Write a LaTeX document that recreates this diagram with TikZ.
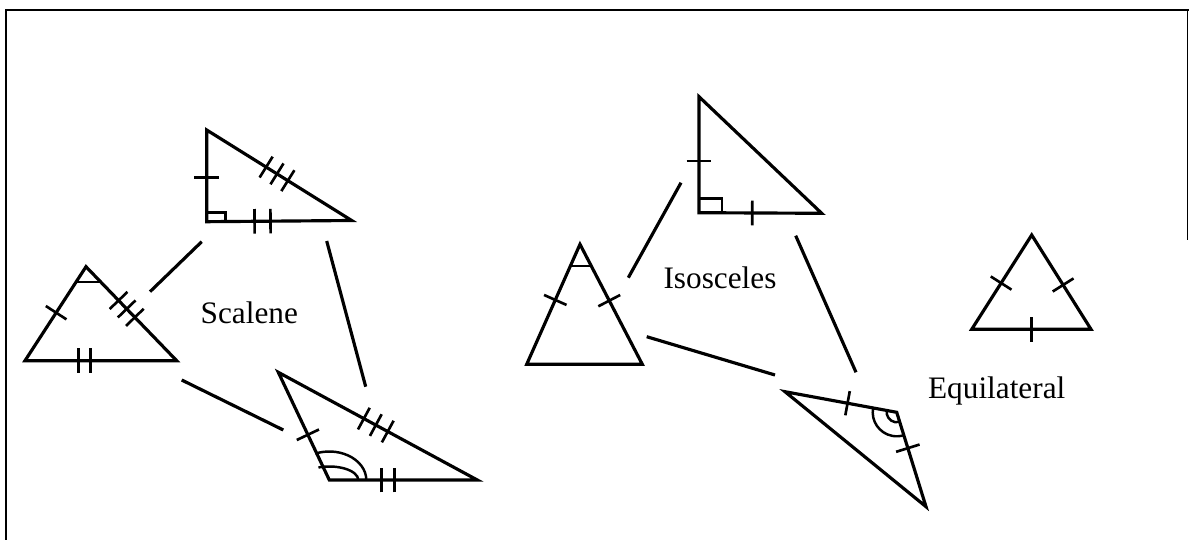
\documentclass[tikz,border=0pt]{standalone}
\usepackage{fontspec}
\setmainfont{Liberation Serif}
\usetikzlibrary{calc, decorations.markings}

\begin{document}
\begin{tikzpicture}[x=0.02cm, y=-0.02cm,
  side/.style={line width=1.8pt, line join=miter},
  link/.style={line width=1.8pt},
  frameline/.style={line width=1.1pt},
  tick/.style={postaction={decorate, decoration={markings,
    mark=at position #1 with {\draw[line width=1.5pt] (0,-7pt) -- (0,7pt);}}}},
  angmark/.style={line width=1.4pt},
  groupname/.style={font=\fontsize{17.8}{20}\selectfont, inner sep=0pt}
]
  \useasboundingbox (0,0) rectangle (1189,540);
  % frame
  \draw[frameline] (6,540) -- (6,10) -- (1189,10);
  \draw[frameline] (1187.5,10) -- (1187.5,240);

  % scalene: right triangle
  \coordinate (sa) at (206.7,130);
  \coordinate (sb) at (206.7,221.7);
  \coordinate (sc) at (351.7,220.5);
  \draw[side] (sa) -- (sb) -- (sc) -- cycle;
  \draw[angmark] ($(sb)+(0,-9)$) -| ($(sb)+(19,0)$);
  \path[tick=0.52] (sa) -- (sb);
  \path[tick=0.41, tick=0.485, tick=0.56] (sa) -- (sc);
  \path[tick=0.33, tick=0.44] (sb) -- (sc);

  % scalene: acute triangle
  \coordinate (sp) at (86,266.7);
  \coordinate (sq) at (25,360.7);
  \coordinate (sr) at (176.7,360.7);
  \draw[side] (sp) -- (sq) -- (sr) -- cycle;
  \draw[angmark] ($(sp)!0.163!(sq)$) -- ($(sp)!0.163!(sr)$);
  \path[tick=0.49] (sp) -- (sq);
  \path[tick=0.36, tick=0.45, tick=0.54] (sp) -- (sr);
  \path[tick=0.354, tick=0.43] (sq) -- (sr);

  % scalene: obtuse triangle
  \coordinate (sv) at (278.3,372.3);
  \coordinate (sw) at (329.3,480);
  \coordinate (sx) at (477.3,480);
  \draw[side] (sv) -- (sw) -- (sx) -- cycle;
  \draw[angmark] ([shift={(0.74cm,0)}]sw) arc[start angle=0, end angle=112, x radius=0.74cm, y radius=0.57cm];
  \draw[angmark] ([shift={(0.58cm,0)}]sw) arc[start angle=0, end angle=112, x radius=0.58cm, y radius=0.27cm];
  \path[tick=0.58] (sv) -- (sw);
  \path[tick=0.43, tick=0.49, tick=0.55] (sv) -- (sx);
  \path[tick=0.354, tick=0.44] (sw) -- (sx);

  \node[groupname] (scalene) at (249.3,313.3) {Scalene};
  \coordinate (s1a) at (201.7,241.7);
  \coordinate (s1b) at (150,291.7);
  \coordinate (s2a) at (326.7,241);
  \coordinate (s2b) at (365.7,386.7);
  \coordinate (s3a) at (181.7,380);
  \coordinate (s3b) at (283.3,430);
  \draw[link] (s1a) -- (s1b);
  \draw[link] (s2a) -- (s2b);
  \draw[link] (s3a) -- (s3b);

  % isosceles: right triangle
  \coordinate (id) at (699,96.7);
  \coordinate (ie) at (699,212.7);
  \coordinate (if) at (821.7,213.3);
  \draw[side] (id) -- (ie) -- (if) -- cycle;
  \draw[angmark] ($(ie)+(0,-14)$) -| ($(ie)+(23,0)$);
  \path[tick=0.554] (id) -- (ie);
  \path[tick=0.434] (ie) -- (if);

  % isosceles: acute triangle
  \coordinate (ig) at (580,244.3);
  \coordinate (ih) at (526.7,364.3);
  \coordinate (ii) at (642.3,364.3);
  \draw[side] (ig) -- (ih) -- (ii) -- cycle;
  \draw[angmark] ($(ig)!0.18!(ih)$) -- ($(ig)!0.18!(ii)$);
  \path[tick=0.464] (ig) -- (ih);
  \path[tick=0.47] (ig) -- (ii);

  % isosceles: obtuse triangle
  \coordinate (ij) at (785,391.7);
  \coordinate (ik) at (896.7,412.3);
  \coordinate (il) at (926,506.7);
  \draw[side] (ij) -- (ik) -- (il) -- cycle;
  \draw[angmark] ([shift={(169.5:0.48cm)}]ik) arc[start angle=169.5, end angle=287.2, radius=0.48cm];
  \draw[angmark] ([shift={(169.5:0.2cm)}]ik) arc[start angle=169.5, end angle=287.2, radius=0.2cm];
  \path[tick=0.56] (ij) -- (ik);
  \path[tick=0.38] (ik) -- (il);

  \node[groupname] (isosceles) at (720,278.3) {Isosceles};
  \coordinate (i1a) at (681,182.7);
  \coordinate (i1b) at (628.3,277.7);
  \coordinate (i2a) at (795.7,235.7);
  \coordinate (i2b) at (856,372.3);
  \coordinate (i3a) at (646.7,336.7);
  \coordinate (i3b) at (775,375);
  \draw[link] (i1a) -- (i1b);
  \draw[link] (i2a) -- (i2b);
  \draw[link] (i3a) -- (i3b);

  % equilateral
  \coordinate (em) at (1031.7,235);
  \coordinate (en) at (971.7,329.3);
  \coordinate (eo) at (1091,329.3);
  \draw[side] (em) -- (en) -- (eo) -- cycle;
  \path[tick=0.51] (em) -- (en);
  \path[tick=0.53] (em) -- (eo);
  \path[tick=0.5] (en) -- (eo);

  \node[groupname] (equilateral) at (996.7,390.7) {Equilateral};
\end{tikzpicture}
\end{document}
